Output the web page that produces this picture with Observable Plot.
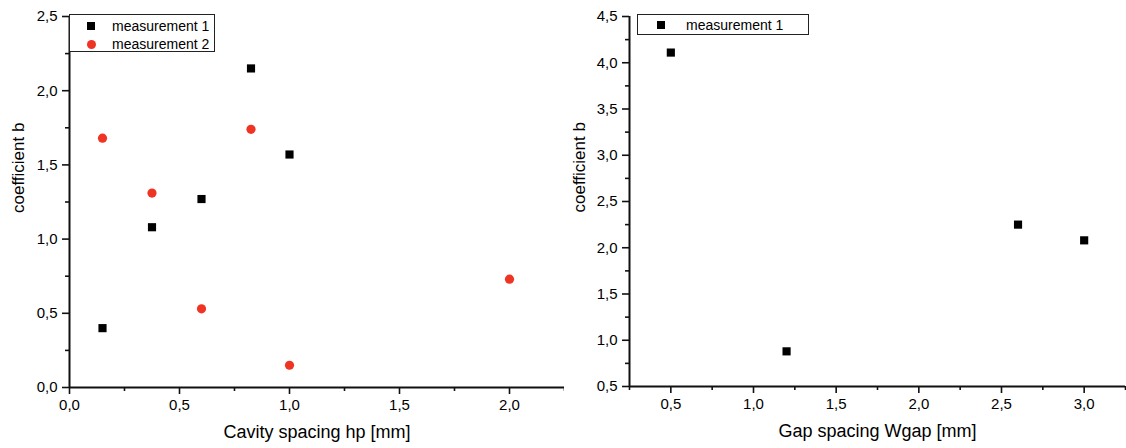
<!DOCTYPE html>
<html>
<head>
<meta charset="utf-8">
<script src="https://cdn.jsdelivr.net/npm/d3@7"></script>
<script src="https://cdn.jsdelivr.net/npm/@observablehq/plot@0.6"></script>
<style>
  body { margin: 0; background: #fff; font-family: Arial, "Liberation Sans", sans-serif; }
  #wrap { position: relative; width: 1126px; height: 448px; overflow: hidden; }
  .panel { position: absolute; top: 0; }
  .legend { position: absolute; box-sizing: border-box; border: 1px solid #222; background: #fff; font-size: 14px; color: #000; }
  .row { position: absolute; left: 0; height: 16px; line-height: 16px; white-space: nowrap; }
  .sym { position: absolute; }
  .lab { position: absolute; }
</style>
</head>
<body>
<div id="wrap"></div>
<script>
// ---------- data ----------
const cavitySpacing1 = [0.15, 0.375, 0.6, 0.825, 1.0];
const coeffB1 = [0.40, 1.08, 1.27, 2.15, 1.57];
const cavitySpacing2 = [0.15, 0.375, 0.6, 0.825, 1.0, 2.0];
const coeffB2 = [1.68, 1.31, 0.53, 1.74, 0.15, 0.73];
const gapSpacing = [0.5, 1.2, 2.6, 3.0];
const coeffBGap = [4.11, 0.88, 2.25, 2.08];

const leftXTicks = [0, 0.5, 1.0, 1.5, 2.0];
const leftXMinor = [0.25, 0.75, 1.25, 1.75, 2.25];
const leftYTicks = [0, 0.5, 1.0, 1.5, 2.0, 2.5];
const leftYMinor = [0.25, 0.75, 1.25, 1.75, 2.25];
const rightXTicks = [0.5, 1.0, 1.5, 2.0, 2.5, 3.0];
const rightXMinor = [0.25, 0.75, 1.25, 1.75, 2.25, 2.75, 3.25];
const rightYTicks = [0.5, 1.0, 1.5, 2.0, 2.5, 3.0, 3.5, 4.0, 4.5];
const rightYMinor = [0.75, 1.25, 1.75, 2.25, 2.75, 3.25, 3.75, 4.25];

const seriesNames = ["measurement 1", "measurement 2"];
const yLabelText = "coefficient b";
const leftXLabelParts = [["Cavity spacing h", 18], ["p", 13], [" [mm]", 15]];
const rightXLabelParts = [["Gap spacing Wgap [mm]", 18]];

const BLACK = "#000000";
const RED = "#ef3424";
const AXIS = "#111111";
const fmt = d => d.toFixed(1).replace(".", ",");

function panel(o) {
  const marks = [
    Plot.axisX({ticks: o.xTicks, tickSize: 7, tickPadding: 5, tickFormat: fmt, label: null, stroke: AXIS, strokeWidth: 1.6, fontSize: 15}),
    Plot.axisX({ticks: o.xMinor, tickSize: 4, tickFormat: () => "", label: null, stroke: AXIS, strokeWidth: 1.6}),
    Plot.axisY({ticks: o.yTicks, tickSize: 7, tickPadding: 5, tickFormat: fmt, label: null, stroke: AXIS, strokeWidth: 1.6, fontSize: 15}),
    Plot.axisY({ticks: o.yMinor, tickSize: 4, tickFormat: () => "", label: null, stroke: AXIS, strokeWidth: 1.6}),
    Plot.ruleX([o.xDomain[0]], {stroke: AXIS, strokeWidth: 2}),
    Plot.ruleY([o.yDomain[0]], {stroke: AXIS, strokeWidth: 2}),
    Plot.text([yLabelText], {frameAnchor: "left", rotate: -90, dx: o.yLabelDx, dy: 11, fontSize: 17, fill: "#000"}),
    Plot.text([o.xLabelParts.map(p => p[0]).join("")], {frameAnchor: "bottom", dy: 50, fontSize: o.xLabelParts[0][1], fill: "#000", ariaLabel: "xlabel"})
  ];
  for (const s of o.series) {
    const data = d3.zip(s.x, s.y);
    marks.push(Plot.dot(data, {x: d => d[0], y: d => d[1], symbol: s.symbol, r: 4.6, fill: s.fill, stroke: "none"}));
  }
  const svg = Plot.plot({
    width: o.width, height: 448,
    marginLeft: o.marginLeft, marginRight: o.marginRight, marginTop: 16, marginBottom: o.marginBottom,
    style: {fontFamily: "Arial, 'Liberation Sans', sans-serif", fontSize: "15px", color: "#000", background: "transparent"},
    x: {domain: o.xDomain},
    y: {domain: o.yDomain},
    marks
  });
  const t = d3.select(svg).select('g[aria-label="xlabel"] text');
  if (!t.empty() && o.xLabelParts.length > 1) {
    t.text(null);
    for (const [str, size] of o.xLabelParts) {
      t.append("tspan").attr("font-size", size).text(str);
    }
  }
  return svg;
}

const wrap = document.getElementById("wrap");

const left = panel({
  width: 564, marginLeft: 69, marginRight: 0, marginBottom: 61,
  xDomain: [0, 2.25], yDomain: [0, 2.5],
  xTicks: leftXTicks, xMinor: leftXMinor, yTicks: leftYTicks, yMinor: leftYMinor,
  yLabelDx: -51, xLabelParts: leftXLabelParts,
  series: [
    {x: cavitySpacing1, y: coeffB1, symbol: "square", fill: BLACK},
    {x: cavitySpacing2, y: coeffB2, symbol: "circle", fill: RED}
  ]
});
left.classList.add("panel"); left.style.left = "0px";
wrap.appendChild(left);

const right = panel({
  width: 562, marginLeft: 65, marginRight: 1, marginBottom: 62,
  xDomain: [0.25, 3.25], yDomain: [0.5, 4.5],
  xTicks: rightXTicks, xMinor: rightXMinor, yTicks: rightYTicks, yMinor: rightYMinor,
  yLabelDx: -50, xLabelParts: rightXLabelParts,
  series: [
    {x: gapSpacing, y: coeffBGap, symbol: "square", fill: BLACK}
  ]
});
right.classList.add("panel"); right.style.left = "564px";
wrap.appendChild(right);

// ---------- legends ----------
function legend(box, entries) {
  const div = document.createElement("div");
  div.className = "legend";
  Object.assign(div.style, {left: box.left + "px", top: box.top + "px", width: box.width + "px", height: box.height + "px"});
  entries.forEach((e, i) => {
    const row = document.createElement("div");
    row.className = "row";
    row.style.top = (box.rowTop + i * box.rowStep - 8) + "px";
    row.style.width = "100%";
    const sym = document.createElement("span");
    sym.className = "sym";
    const size = e.symbol === "square" ? 8 : 9;
    Object.assign(sym.style, {
      left: (box.symX - size / 2) + "px", top: (8 - size / 2) + "px",
      width: size + "px", height: size + "px", background: e.fill,
      borderRadius: e.symbol === "circle" ? "50%" : "0"
    });
    const lab = document.createElement("span");
    lab.className = "lab";
    lab.style.left = box.textX + "px";
    lab.textContent = e.name;
    row.appendChild(sym); row.appendChild(lab);
    div.appendChild(row);
  });
  wrap.appendChild(div);
}

legend({left: 69, top: 14, width: 146, height: 38, rowTop: 10.5, rowStep: 18.5, symX: 21, textX: 42},
  [{name: seriesNames[0], symbol: "square", fill: BLACK}, {name: seriesNames[1], symbol: "circle", fill: RED}]);
legend({left: 637, top: 14, width: 172, height: 21, rowTop: 10, rowStep: 0, symX: 23, textX: 48},
  [{name: seriesNames[0], symbol: "square", fill: BLACK}]);
</script>
</body>
</html>
